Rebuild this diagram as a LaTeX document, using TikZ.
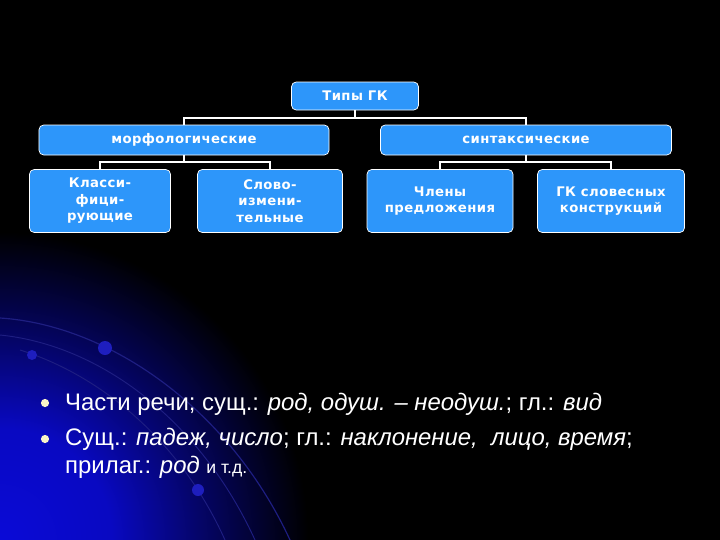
\documentclass[tikz,border=0pt]{standalone}
\usepackage{fontspec}
\setmainfont{Liberation Sans}
\newfontfamily\boxfont[LetterSpace=3]{DejaVu Sans}
\usetikzlibrary{calc}
\definecolor{Boxblue}{RGB}{45,150,250}
\definecolor{Glowblue}{RGB}{10,10,215}
\definecolor{Arcblue}{RGB}{30,30,130}
\definecolor{Dotblue}{RGB}{30,30,190}
\definecolor{Dotcream}{RGB}{250,245,200}
\pgfdeclareradialshading{cornerglow}{\pgfpoint{0bp}{0bp}}{color(0bp)=(Glowblue); color(4bp)=(Glowblue!90!black); color(7bp)=(Glowblue!50!black); color(11bp)=(black); color(50bp)=(black)}

\begin{document}
\begin{tikzpicture}[x=0.3mm,y=-0.3mm,
  gkbox/.style={draw=white, line width=0.6pt, fill=Boxblue, rounded corners=4pt,
    text=white, align=center, inner sep=0pt,
    font=\boxfont\bfseries\fontsize{11.3}{14}\selectfont},
  link/.style={draw=white, line width=1.6pt},
  bullet/.style={circle, fill=Dotcream, inner sep=0pt, minimum size=7pt},
  textline/.style={anchor=base west, text=white, inner sep=0pt,
    font=\fontsize{20.4}{24}\selectfont}]
%background
\fill[black] (0,0) rectangle (720,540);
\begin{scope}
\clip (0,0) rectangle (720,540);
\shade[shading=cornerglow] (0,540) circle (700);
\draw[Arcblue, line width=1pt] (0,318) .. controls (110,325) and (230,410) .. (290,540);
\draw[Arcblue, line width=0.8pt] (0,335) .. controls (100,345) and (200,420) .. (255,540);
\draw[Arcblue, line width=0.8pt] (20,350) .. controls (100,375) and (180,440) .. (225,540);
\fill[Dotblue] (32,355) circle (5);
\fill[Dotblue] (105,348) circle (7);
\fill[Dotblue] (198,490) circle (6);
\end{scope}
%boxes
\node[gkbox, minimum width=38.1mm, minimum height=8.4mm] (tipy) at (355,96) {Типы ГК};
\node[gkbox, minimum width=87mm, minimum height=9mm] (morf) at (184,140) {морфологические};
\node[gkbox, minimum width=87.3mm, minimum height=9mm] (sint) at (526,140) {синтаксические};
\node[gkbox, minimum width=42.3mm, minimum height=18.9mm] (klass) at (100,201) {Класси-\\фици-\\рующие};
\node[gkbox, minimum width=43.5mm, minimum height=18.9mm] (slovo) at (270,201) {Слово-\\измени-\\тельные};
\node[gkbox, minimum width=43.8mm, minimum height=18.9mm] (chleny) at (440,201) {Члены\\предложения};
\node[gkbox, minimum width=44.1mm, minimum height=18.9mm] (konstr) at (611,201) {ГК словесных\\конструкций};
%connectors
\draw[link] (tipy.south) -- ++(0,8);
\draw[link] (morf.north) -- ++(0,-7) -| (sint.north);
\draw[link] (morf.south) -- ++(0,8);
\draw[link] (klass.north) -- ++(0,-7) -| (slovo.north);
\draw[link] (sint.south) -- ++(0,8);
\draw[link] (chleny.north) -- ++(0,-7) -| (konstr.north);
%list
\node[bullet] (b1) at (45,403) {};
\node[bullet] (b2) at (45,439) {};
\node[textline] (l1) at (65,410) {Части речи; сущ.: \textit{род, одуш. – неодуш.}; гл.: \textit{вид}};
\node[textline] (l2) at (65,445) {Сущ.: \textit{падеж, число}; гл.: \textit{наклонение,\ \ лицо, время};};
\node[textline] (l3) at (65,473) {прилаг.: \textit{род} {\fontsize{15}{18}\selectfont и т.д.}};
\end{tikzpicture}
\end{document}
